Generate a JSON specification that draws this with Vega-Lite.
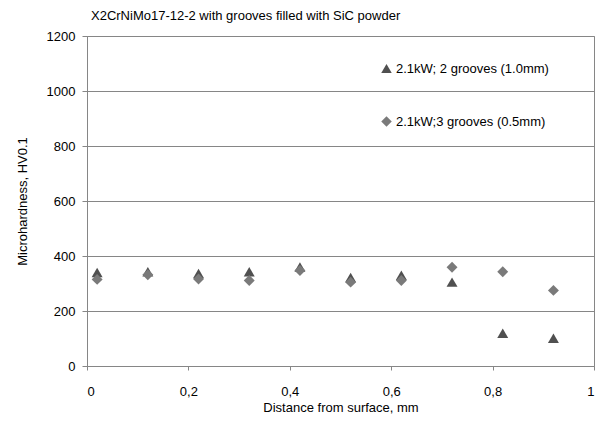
{
  "$schema": "https://vega.github.io/schema/vega-lite/v6.json",
  "width": 507,
  "height": 330,
  "padding": {"left": 16, "top": 10, "right": 0, "bottom": 0},
  "background": "white",
  "title": {
    "text": "X2CrNiMo17-12-2 with grooves filled with SiC powder",
    "anchor": "start",
    "frame": "group",
    "dx": 4,
    "fontSize": 13,
    "fontWeight": "normal",
    "font": "Liberation Sans",
    "color": "#000000",
    "offset": 7
  },
  "config": {
    "font": "Liberation Sans",
    "view": {"stroke": "#868686", "strokeWidth": 1},
    "legend": {
      "orient": "none",
      "legendX": 293,
      "legendY": 26,
      "labelFontSize": 13,
      "labelColor": "#000000",
      "rowPadding": 36,
      "symbolSize": 110,
      "labelOffset": 3,
      "symbolOpacity": 1
    }
  },
  "data": {
    "values": [
      {"d": 0.02, "hv": 340, "s": "2.1kW; 2 grooves (1.0mm)"},
      {"d": 0.12, "hv": 343, "s": "2.1kW; 2 grooves (1.0mm)"},
      {"d": 0.22, "hv": 336, "s": "2.1kW; 2 grooves (1.0mm)"},
      {"d": 0.32, "hv": 343, "s": "2.1kW; 2 grooves (1.0mm)"},
      {"d": 0.42, "hv": 360, "s": "2.1kW; 2 grooves (1.0mm)"},
      {"d": 0.52, "hv": 322, "s": "2.1kW; 2 grooves (1.0mm)"},
      {"d": 0.62, "hv": 330, "s": "2.1kW; 2 grooves (1.0mm)"},
      {"d": 0.72, "hv": 305, "s": "2.1kW; 2 grooves (1.0mm)"},
      {"d": 0.82, "hv": 119, "s": "2.1kW; 2 grooves (1.0mm)"},
      {"d": 0.92, "hv": 101, "s": "2.1kW; 2 grooves (1.0mm)"},
      {"d": 0.02, "hv": 315, "s": "2.1kW;3 grooves (0.5mm)"},
      {"d": 0.12, "hv": 332, "s": "2.1kW;3 grooves (0.5mm)"},
      {"d": 0.22, "hv": 316, "s": "2.1kW;3 grooves (0.5mm)"},
      {"d": 0.32, "hv": 311, "s": "2.1kW;3 grooves (0.5mm)"},
      {"d": 0.42, "hv": 347, "s": "2.1kW;3 grooves (0.5mm)"},
      {"d": 0.52, "hv": 305, "s": "2.1kW;3 grooves (0.5mm)"},
      {"d": 0.62, "hv": 311, "s": "2.1kW;3 grooves (0.5mm)"},
      {"d": 0.72, "hv": 359, "s": "2.1kW;3 grooves (0.5mm)"},
      {"d": 0.82, "hv": 343, "s": "2.1kW;3 grooves (0.5mm)"},
      {"d": 0.92, "hv": 275, "s": "2.1kW;3 grooves (0.5mm)"}
    ]
  },
  "mark": {"type": "point", "filled": true, "opacity": 1, "size": 120},
  "encoding": {
    "x": {
      "field": "d",
      "type": "quantitative",
      "scale": {"domain": [0, 1], "nice": false},
      "axis": {
        "values": [0, 0.2, 0.4, 0.6, 0.8, 1],
        "labelExpr": "replace(format(datum.value, '.1~f'), '.', ',')",
        "title": "Distance from surface, mm",
        "titleFontWeight": "normal",
        "titleFontSize": 13,
        "titleColor": "#000000",
        "labelFontSize": 13,
        "labelColor": "#000000",
        "labelPadding": 15,
        "titlePadding": 3,
        "grid": false,
        "domainColor": "#868686",
        "tickColor": "#868686",
        "tickSize": 4
      }
    },
    "y": {
      "field": "hv",
      "type": "quantitative",
      "scale": {"domain": [0, 1200], "nice": false},
      "axis": {
        "values": [0, 200, 400, 600, 800, 1000, 1200],
        "format": "d",
        "title": "Microhardness, HV0.1",
        "titleFontWeight": "normal",
        "titleFontSize": 13,
        "titleColor": "#000000",
        "labelFontSize": 13,
        "labelColor": "#000000",
        "labelPadding": 7,
        "titlePadding": 17,
        "grid": true,
        "gridColor": "#868686",
        "domainColor": "#868686",
        "tickColor": "#868686",
        "tickSize": 5
      }
    },
    "shape": {
      "field": "s",
      "type": "nominal",
      "scale": {"range": ["triangle-up", "diamond"]},
      "legend": {"title": null}
    },
    "color": {
      "field": "s",
      "type": "nominal",
      "scale": {"range": ["#505050", "#7a7a7a"]},
      "legend": {"title": null}
    }
  }
}
